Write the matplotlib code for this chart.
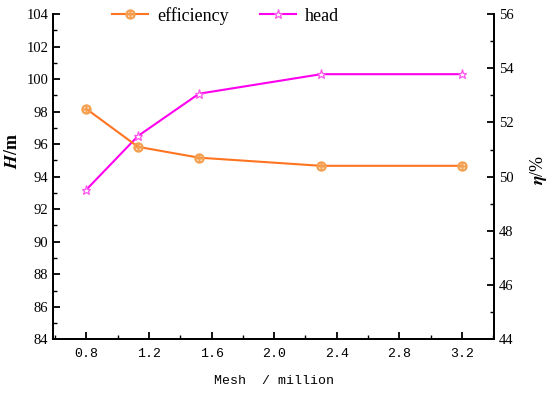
import matplotlib
matplotlib.use("Agg")
import matplotlib.pyplot as plt
from matplotlib.ticker import MultipleLocator

# data
mesh = [0.8, 1.13, 1.52, 2.3, 3.2]
head = [93.2, 96.5, 99.1, 100.3, 100.3]         # H / m (left axis)
efficiency = [52.5, 51.1, 50.7, 50.4, 50.4]     # eta / % (right axis)

x_ticks = [0.8, 1.2, 1.6, 2.0, 2.4, 2.8, 3.2]
x_tick_labels = ["0.8", "1.2", "1.6", "2.0", "2.4", "2.8", "3.2"]

orange = "#FF7420"
magenta = "#FF00EE"
serif = "Liberation Serif"
mono = "Liberation Mono"

plt.rcParams['mathtext.fontset'] = 'stix'

fig = plt.figure(figsize=(5.5, 3.93), dpi=100)
ax = fig.add_axes([0.0964, 0.1366, 0.8018, 0.8278])
ax2 = ax.twinx()

l_head, = ax.plot(mesh, head, color=magenta, lw=1.5, marker="*", ms=6.5,
                  mfc="white", mec="#FF55EE", mew=0.9, label="head", zorder=3)
l_eff, = ax2.plot(mesh, efficiency, color=orange, lw=1.5, marker=r"$\oplus$", ms=6.5,
                  mec="#F5A050", mfc="none", label="efficiency", zorder=3)

ax.set_xlim(0.587, 3.405)
ax.set_ylim(84, 104)
ax2.set_ylim(44, 56)

ax.set_xticks(x_ticks)
ax.set_xticklabels(x_tick_labels, family=mono, fontsize=9.5)
ax.xaxis.set_minor_locator(MultipleLocator(0.2))
ax.yaxis.set_major_locator(MultipleLocator(2))
ax.yaxis.set_minor_locator(MultipleLocator(1))
ax2.yaxis.set_major_locator(MultipleLocator(2))
ax2.yaxis.set_minor_locator(MultipleLocator(1))

for a in (ax, ax2):
    a.spines['top'].set_visible(False)
    for s in a.spines.values():
        s.set_linewidth(1.3)
    a.tick_params(which='major', direction='in', length=5, width=1.3)
    a.tick_params(which='minor', direction='in', length=3, width=1.0)
    for lab in a.get_yticklabels():
        lab.set_family(serif)
        lab.set_fontsize(10.5)
ax.tick_params(axis='x', pad=6)

ax.set_xlabel("Mesh  / million", family=mono, fontsize=9.5, labelpad=11)
ax.set_ylabel(r"$\boldsymbol{H}$/m", family=serif, fontsize=13, fontweight="bold")
ax2.set_ylabel(r"$\boldsymbol{\eta}$/%", family=serif, fontsize=13)
ax.yaxis.set_label_coords(-0.072, 0.58)
ax2.yaxis.set_label_coords(1.078, 0.52)

fig.legend(handles=[l_eff, l_head], loc="center", bbox_to_anchor=(0.41, 0.96),
           ncol=2, frameon=False, prop={'family': serif, 'size': 13},
           handlelength=2.0, columnspacing=1.7, handletextpad=0.5)

fig.savefig("out.png", dpi=100)
